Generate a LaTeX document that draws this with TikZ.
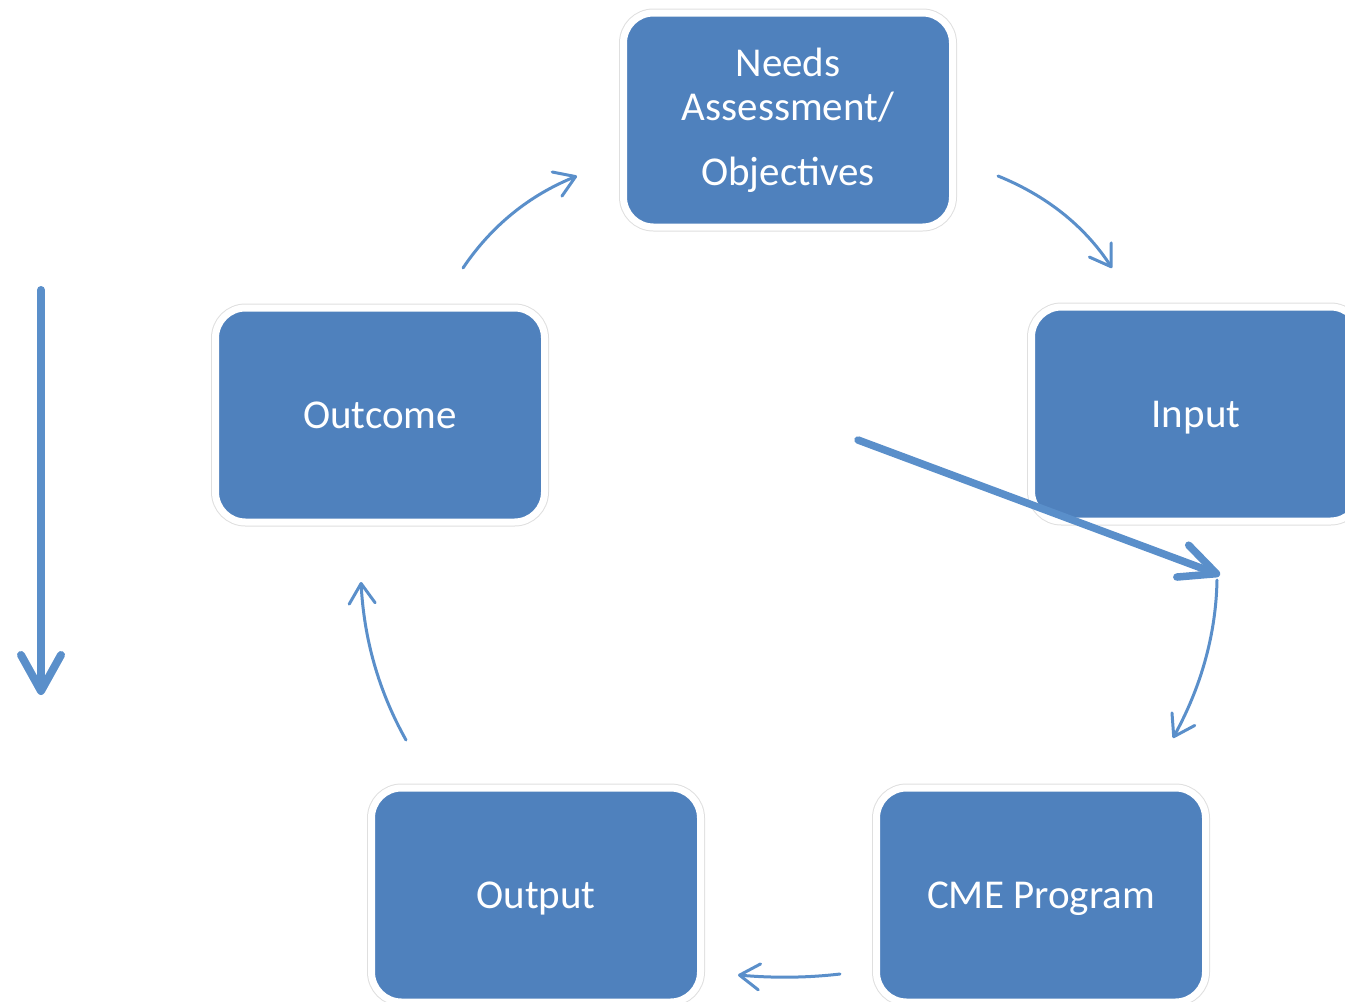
\documentclass[tikz,border=0pt]{standalone}
\usepackage{fontspec}
\setmainfont{Carlito}
\usetikzlibrary{arrows.meta}
\definecolor{boxblue}{HTML}{4F81BD}
\definecolor{arrowblue}{HTML}{5A8FCA}
\begin{document}
\begin{tikzpicture}[x=1pt,y=-1pt,
  stagebox/.style={rounded corners=30pt, fill=boxblue, draw=white, line width=7pt,
    minimum width=329pt, minimum height=214pt, text=white,
    font=\fontsize{41}{44}\selectfont, align=center, inner sep=0pt,
    preaction={draw=gray!25, line width=9pt}},
  onelinebox/.style={stagebox, text height=32pt, text depth=5pt},
  thinarrow/.style={draw=arrowblue, line width=3pt, line cap=round,
    -{Straight Barb[length=20pt,width=26pt,round]}},
  thickarrow/.style={draw=arrowblue, line width=7.5pt, line cap=round}]
\clip (0,0) rectangle (1345,1002);
\useasboundingbox (0,0) rectangle (1345,1002);

\node[stagebox] (needs) at (788,120) {Needs\\Assessment/\\[21pt]Objectives};
\node[onelinebox] (input) at (1196,414) {Input};
\node[onelinebox] (outcome) at (380,415) {Outcome};
\node[onelinebox] (output) at (536,895) {Output};
\node[onelinebox] (cme) at (1041,895) {CME Program};

\coordinate (a1s) at (463,268);
\coordinate (a1e) at (577,176);
\coordinate (a2s) at (998,176);
\coordinate (a2e) at (1112,268);
\coordinate (a3s) at (1217,580);
\coordinate (a3e) at (1173,738);
\coordinate (a4s) at (840,974);
\coordinate (a4e) at (738,975);
\coordinate (a5s) at (406,740);
\coordinate (a5e) at (361,582);
\coordinate (bigs) at (858,440);
\coordinate (bige) at (1220,575);
\coordinate (lefts) at (41,290);
\coordinate (lefte) at (41,695);

\draw[thinarrow] (a1s) .. controls (492,225) and (530,195) .. (a1e);
\draw[thinarrow] (a2s) .. controls (1045,195) and (1084,225) .. (a2e);
\draw[thinarrow] (a3s) .. controls (1216,636) and (1200,689) .. (a3e);
\draw[thinarrow] (a4s) .. controls (806,978) and (772,978) .. (a4e);
\draw[thinarrow] (a5s) .. controls (378,690) and (364,638) .. (a5e);

\draw[thickarrow, -{Straight Barb[length=36pt,width=34pt,round]}] (bigs) -- (bige);
\draw[thickarrow, line width=8pt, -{Straight Barb[length=36pt,width=40pt,round]}] (lefts) -- (lefte);
\end{tikzpicture}
\end{document}
